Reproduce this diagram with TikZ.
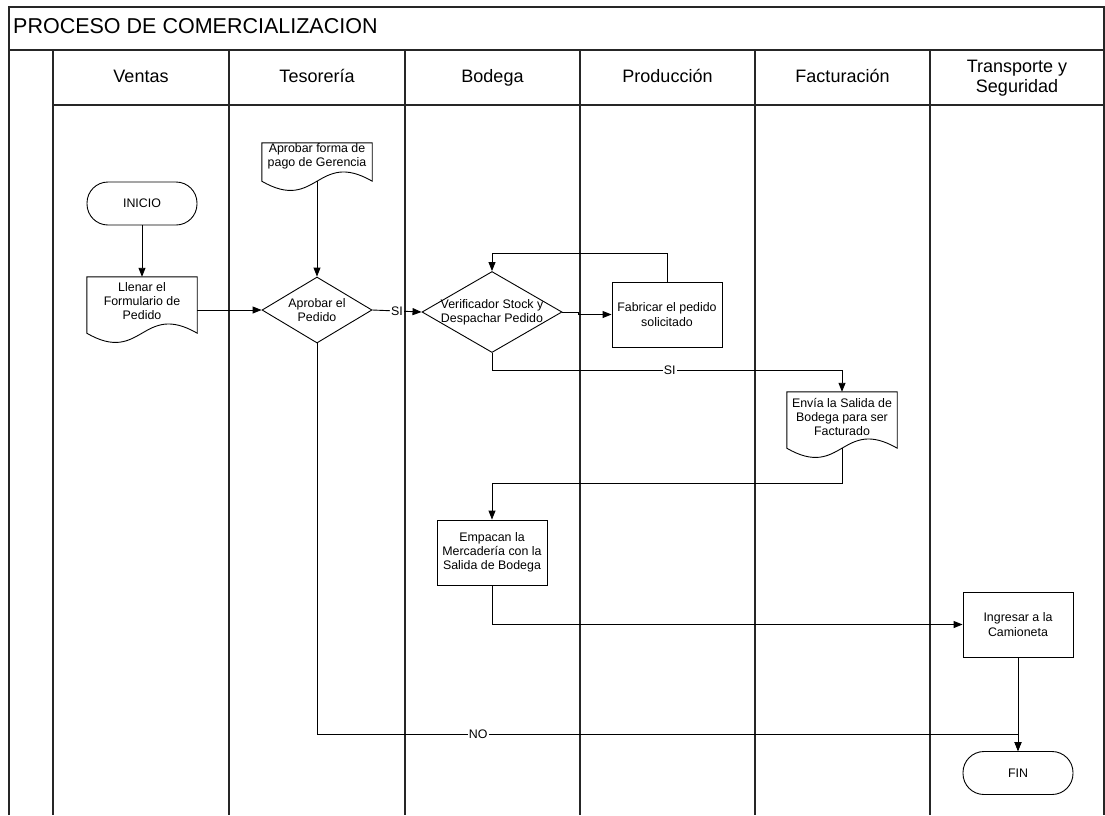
\documentclass[tikz,border=0pt]{standalone}
\usepackage{fontspec}
\setmainfont{Liberation Sans}
\usetikzlibrary{arrows.meta,shapes.geometric,calc}
\newcommand\docpath[1]{\draw[line width=0.9pt] (#1.south west) -- (#1.north west) -- (#1.north east) -- (#1.south east) .. controls ($(#1.south)+(0,-32)$) and ($(#1.south)+(0,32)$) .. (#1.south west) -- cycle;}
\begin{document}
\begin{tikzpicture}[x=1pt,y=-1pt,
  grid/.style={line width=1.2pt, draw=black!85},
  conn/.style={line width=0.9pt},
  arr/.style={conn, -{Triangle[length=9pt,width=7pt]}},
  nf/.style={font=\fontsize{12.4}{14.2}\selectfont, align=center},
  term/.style={nf, draw, line width=0.9pt, rounded corners=21pt, minimum width=110pt, minimum height=43pt, inner sep=0pt},
  box/.style={nf, draw, line width=0.9pt, minimum width=110pt, minimum height=65pt, inner sep=0pt},
  doc/.style={minimum width=110pt, inner sep=0pt},
  dec/.style={diamond, draw, line width=0.9pt, inner sep=0pt},
  hdr/.style={font=\fontsize{18}{20}\selectfont, align=center},
  hdr1/.style={hdr, text height=13.5pt, text depth=4pt},
  lab/.style={nf, fill=white, inner sep=1pt}
]
\useasboundingbox (0,0) rectangle (1105,815);

% frame and lanes
\draw[grid] (9,815) -- (9,7) -- (1104,7) -- (1104,815);
\draw[grid] (9,50) -- (1104,50);
\draw[grid] (53,105) -- (1104,105);
\foreach \x in {53,229,405,580,755,930} \draw[grid] (\x,50) -- (\x,815);

\node[font=\fontsize{21.5}{24}\selectfont, anchor=west, inner sep=0pt] (title) at (13,26.5) {PROCESO DE COMERCIALIZACION};

\node[hdr1] (h1) at (141,78) {Ventas};
\node[hdr1] (h2) at (317,78) {Tesorería};
\node[hdr1] (h3) at (492.5,78) {Bodega};
\node[hdr1] (h4) at (667.5,78) {Producción};
\node[hdr1] (h5) at (842.5,78) {Facturación};
\node[hdr] (h6) at (1017,78) {Transporte y\\Seguridad};

% nodes
\node[term] (ini) at (142,203.5) {INICIO};
\node[doc, minimum height=56pt, label={[nf,yshift=4pt]center:{Llenar el\\Formulario de\\Pedido}}] (llenar) at (142,305) {};
\docpath{llenar}
\node[doc, minimum height=38pt, label={[nf,yshift=6pt]center:{Aprobar forma de\\pago de Gerencia}}] (forma) at (317,162) {};
\docpath{forma}
\node[dec, minimum width=110pt, minimum height=66pt, label={[nf]center:{Aprobar el\\Pedido}}] (apr) at (317,310) {};
\node[dec, minimum width=140pt, minimum height=81pt, label={[nf]center:{Verificador Stock y\\Despachar Pedido}}] (ver) at (492,312) {};
\node[box] (fab) at (667,314.5) {Fabricar el pedido\\solicitado};
\node[doc, minimum height=56pt, label={[nf,yshift=3pt]center:{Envía la Salida de\\Bodega para ser\\Facturado}}] (env) at (842,420) {};
\docpath{env}
\node[box] (emp) at (492,552.5) {Empacan la\\Mercadería con la\\Salida de Bodega};
\node[box] (ing) at (1018,624.5) {Ingresar a la\\Camioneta};
\node[term] (fin) at (1018,773) {FIN};

% connectors
\draw[arr] (ini) -- (llenar);
\draw[arr] (llenar.east |- apr.west) -- (apr.west);
\draw[arr] (forma) -- (apr);
\draw[arr] (apr.east) -- node[lab]{SI} (ver.west);
\draw[arr] (ver.east) -- ++(16,0) |- (fab.west);
\draw[arr] (fab.north) -- ++(0,-28) -| (ver.north);
\draw[arr] (ver.south) -- ++(0,17) -| node[lab,pos=0.254]{SI} (env.north);
\draw[arr] (env.south) -- ++(0,35) -| (emp.north);
\draw[arr] (emp.south) |- (ing.west);
\draw[arr] (ing) -- (fin);
\draw[arr] (apr.south) -- ++(0,391) -| node[lab,pos=0.115]{NO} (fin.north);
\end{tikzpicture}
\end{document}
